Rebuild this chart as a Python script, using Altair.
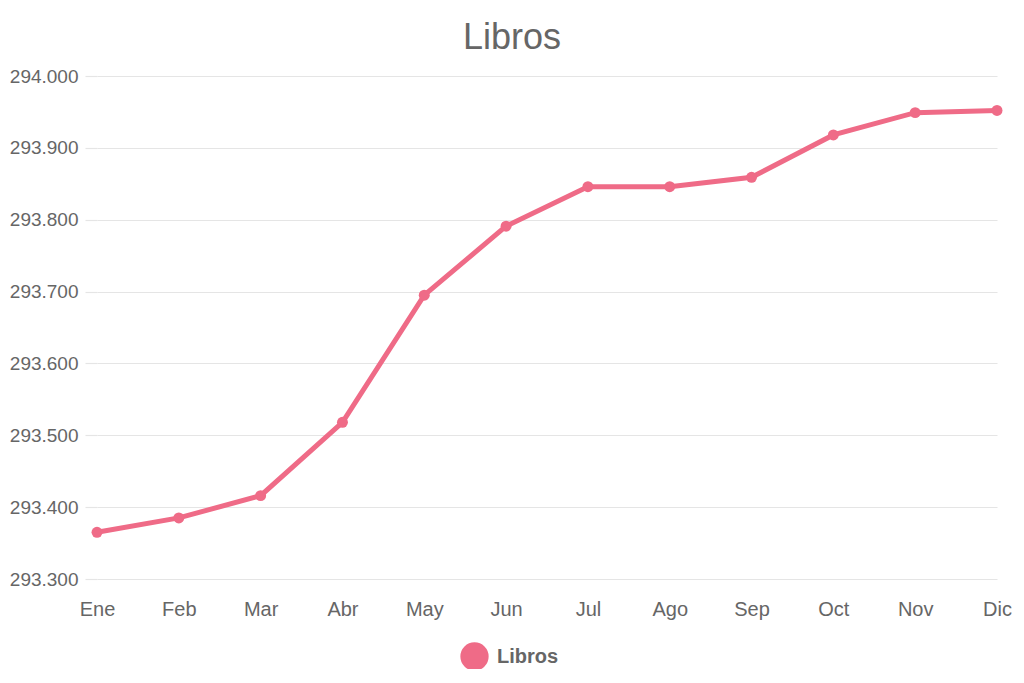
import altair as alt
import pandas as pd

months = ["Ene", "Feb", "Mar", "Abr", "May", "Jun", "Jul", "Ago", "Sep", "Oct", "Nov", "Dic"]
values = [293365, 293385, 293416, 293518, 293695, 293791, 293846, 293846, 293859, 293918, 293949, 293952]
series = ["Libros"] * len(months)

df = pd.DataFrame({"mes": months, "valor": values, "serie": series})

color = "#ef6b87"
font = "Liberation Sans"

x = alt.X("mes:N", sort=months, title=None,
          scale=alt.Scale(type="point", padding=0),
          axis=alt.Axis(labelAngle=0, labelFontSize=20, labelColor="#666666", labelFont=font,
                        grid=False, ticks=False, domain=False, labelPadding=20))
y = alt.Y("valor:Q", title=None,
          scale=alt.Scale(domain=[293300, 294000], nice=False, zero=False),
          axis=alt.Axis(values=[293300, 293400, 293500, 293600, 293700, 293800, 293900, 294000],
                        labelExpr="replace(format(datum.value, ','), ',', '.')",
                        labelFontSize=19, labelColor="#666666", labelFont=font,
                        grid=True, gridColor="#e5e5e5", gridWidth=1.2,
                        ticks=True, tickSize=12, tickColor="#e5e5e5", tickWidth=1.2,
                        domain=False, labelPadding=7))

colorenc = alt.Color("serie:N", scale=alt.Scale(range=[color]),
                     legend=alt.Legend(title=None, orient="none", legendX=363, legendY=566,
                                       symbolType="circle", symbolSize=800, symbolFillColor=color,
                                       symbolStrokeWidth=0, labelFontSize=20, labelFontWeight="bold",
                                       labelColor="#666666", labelFont=font, symbolOffset=0,
                                       labelOffset=8))

base = alt.Chart(df).encode(x=x, y=y, color=colorenc)
line = base.mark_line(strokeWidth=5)
pts = base.mark_point(filled=True, size=120, opacity=1)

chart = (line + pts).properties(
    width=900, height=503,
    title=alt.TitleParams("Libros", fontSize=36, color="#666666", font=font, fontWeight="normal",
                          anchor="middle", offset=10, dx=-35),
    autosize=alt.AutoSizeParams(type="none"),
    padding={"left": 89, "top": 68, "right": 19, "bottom": 90},
    background="white",
).configure_view(stroke=None, strokeWidth=0)

chart.save("out.html", embed_options={"renderer": "svg", "actions": False})
